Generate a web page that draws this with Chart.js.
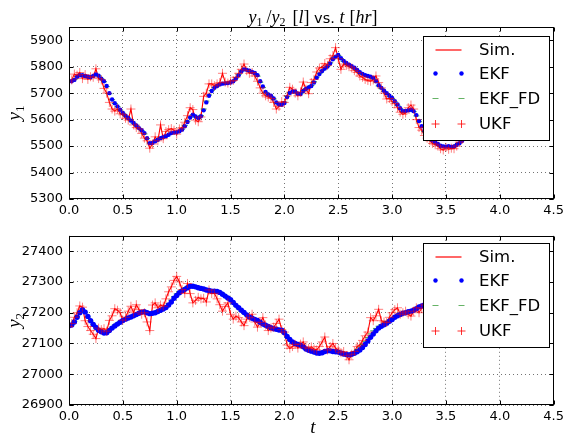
<!DOCTYPE html>
<html><head><meta charset="utf-8">
<script src="https://cdn.jsdelivr.net/npm/chart.js@4/dist/chart.umd.min.js"></script>
<style>
html,body{margin:0;padding:0;background:#fff;}
#wrap{position:relative;width:568px;height:444px;overflow:hidden;background:#fff;}
canvas{position:absolute;left:0;}
</style></head><body>
<div id="wrap">
<canvas id="c1" width="568" height="222" style="top:0"></canvas>
<canvas id="c2" width="568" height="222" style="top:222px"></canvas>
</div>
<script>
// ---------- data ----------
const t = [0,0.025,0.05,0.075,0.1,0.125,0.15,0.175,0.2,0.225,
0.25,0.275,0.3,0.325,0.35,0.375,0.4,0.425,0.45,0.475,
0.5,0.525,0.55,0.575,0.6,0.625,0.65,0.675,0.7,0.725,
0.75,0.775,0.8,0.825,0.85,0.875,0.9,0.925,0.95,0.975,
1,1.025,1.05,1.075,1.1,1.125,1.15,1.175,1.2,1.225,
1.25,1.275,1.3,1.325,1.35,1.375,1.4,1.425,1.45,1.475,
1.5,1.525,1.55,1.575,1.6,1.625,1.65,1.675,1.7,1.725,
1.75,1.775,1.8,1.825,1.85,1.875,1.9,1.925,1.95,1.975,
2,2.025,2.05,2.075,2.1,2.125,2.15,2.175,2.2,2.225,
2.25,2.275,2.3,2.325,2.35,2.375,2.4,2.425,2.45,2.475,
2.5,2.525,2.55,2.575,2.6,2.625,2.65,2.675,2.7,2.725,
2.75,2.775,2.8,2.825,2.85,2.875,2.9,2.925,2.95,2.975,
3,3.025,3.05,3.075,3.1,3.125,3.15,3.175,3.2,3.225,
3.25,3.275,3.3,3.325,3.35,3.375,3.4,3.425,3.45,3.475,
3.5,3.525,3.55,3.575,3.6,3.625,3.65];

const simY1 = [5742,5750,5772,5768,5778,5755,5770,5752,5762,5760,
5792,5755,5750,5718,5700,5665,5640,5632,5640,5622,
5618,5605,5598,5640,5580,5570,5565,5548,5530,5520,
5492,5508,5535,5520,5580,5528,5555,5562,5566,5560,
5545,5565,5570,5590,5615,5645,5638,5598,5592,5610,
5688,5700,5735,5735,5728,5735,5740,5775,5742,5738,
5745,5748,5760,5775,5790,5810,5785,5775,5778,5765,
5745,5720,5700,5690,5685,5680,5665,5640,5650,5668,
5665,5690,5722,5715,5700,5690,5705,5742,5715,5698,
5740,5752,5780,5795,5798,5812,5805,5830,5842,5872,
5830,5790,5810,5805,5800,5795,5785,5778,5765,5760,
5752,5748,5745,5750,5765,5740,5720,5700,5678,5680,
5668,5660,5645,5628,5620,5625,5645,5655,5640,5600,
5570,5560,5540,5530,5520,5510,5505,5500,5490,5485,
5495,5488,5492,5490,5500,5515,5525];

const ekfY1 = [5745,5745,5750,5762,5767,5768,5765,5762,5760,5765,
5771,5766,5755,5745,5727,5700,5676,5662,5650,5637,
5625,5615,5606,5596,5587,5578,5568,5560,5549,5530,
5511,5512,5518,5524,5530,5534,5537,5543,5549,5551,
5552,5556,5562,5575,5591,5608,5619,5612,5606,5613,
5635,5665,5690,5708,5720,5727,5733,5736,5737,5738,
5740,5745,5755,5768,5782,5790,5788,5785,5780,5776,
5768,5745,5725,5705,5695,5690,5680,5665,5657,5656,
5663,5685,5701,5706,5706,5698,5697,5708,5716,5722,
5727,5740,5758,5772,5784,5793,5801,5812,5828,5838,
5844,5832,5822,5814,5808,5802,5796,5788,5779,5773,
5768,5765,5762,5757,5745,5730,5720,5709,5700,5690,
5682,5670,5657,5643,5632,5633,5635,5637,5632,5617,
5595,5575,5558,5545,5533,5522,5514,5508,5501,5499,
5498,5500,5497,5499,5505,5511,5520];

const fdY1 = [5745,5746,5752,5763,5767,5768,5765,5762,5761,5766,
5770,5765,5754,5743,5725,5698,5675,5661,5649,5636,
5624,5614,5605,5595,5586,5577,5567,5558,5546,5528,
5512,5514,5520,5526,5531,5535,5538,5544,5549,5551,
5553,5557,5564,5578,5594,5610,5618,5610,5605,5615,
5640,5670,5693,5710,5721,5728,5733,5736,5737,5738,
5741,5747,5758,5771,5784,5790,5787,5784,5779,5774,
5764,5741,5721,5703,5694,5688,5678,5663,5656,5657,
5666,5688,5702,5706,5705,5698,5698,5709,5717,5723,
5729,5743,5761,5775,5786,5795,5803,5815,5830,5839,
5842,5830,5820,5812,5806,5800,5794,5786,5777,5771,
5767,5764,5760,5754,5742,5727,5717,5707,5698,5688,
5680,5667,5654,5641,5631,5633,5636,5637,5630,5614,
5592,5572,5555,5542,5530,5520,5512,5506,5500,5498,
5497,5499,5497,5500,5506,5513,5522];

const ukfY1 = [5742,5750,5772,5768,5778,5755,5770,5752,5762,5760,
5792,5755,5750,5718,5700,5665,5640,5632,5640,5622,
5618,5605,5598,5640,5580,5570,5565,5548,5530,5520,
5492,5508,5535,5520,5580,5528,5555,5562,5566,5560,
5545,5565,5570,5590,5615,5645,5638,5598,5592,5610,
5688,5700,5735,5735,5728,5735,5740,5775,5742,5738,
5745,5748,5760,5775,5790,5810,5785,5775,5778,5765,
5745,5720,5700,5690,5685,5680,5665,5640,5650,5668,
5665,5690,5722,5715,5700,5690,5705,5742,5715,5698,
5740,5752,5780,5795,5798,5812,5805,5830,5842,5872,
5830,5790,5810,5805,5800,5795,5785,5778,5765,5760,
5752,5748,5745,5750,5765,5740,5720,5700,5678,5680,
5668,5660,5645,5628,5620,5625,5645,5655,5640,5600,
5570,5560,5540,5530,5520,5510,5505,5500,5490,5485,
5495,5488,5492,5490,5500,5515,5525];

const simY2 = [27155,27165,27185,27200,27222,27218,27174,27155,27142,27130,
27116,27150,27145,27148,27140,27175,27190,27213,27208,27200,
27176,27185,27205,27221,27200,27226,27210,27195,27200,27170,
27142,27225,27232,27216,27225,27221,27245,27268,27284,27305,
27318,27300,27275,27263,27295,27262,27232,27240,27250,27245,
27247,27235,27274,27262,27263,27245,27226,27205,27220,27232,
27195,27179,27189,27184,27170,27158,27179,27185,27195,27170,
27153,27168,27184,27160,27142,27150,27153,27165,27179,27145,
27137,27095,27084,27090,27097,27085,27098,27105,27088,27084,
27089,27082,27079,27090,27105,27121,27079,27090,27100,27085,
27079,27070,27074,27060,27047,27065,27074,27090,27095,27110,
27125,27137,27184,27174,27190,27211,27174,27170,27168,27185,
27200,27210,27216,27195,27200,27205,27195,27189,27205,27216,
27200,27215,27225,27230,27220,27235,27240,27230,27245,27235,
27240,27250,27235,27245,27238,27250,27242];

const ekfY2 = [27158,27160,27170,27185,27200,27210,27202,27188,27174,27162,
27152,27143,27138,27134,27135,27142,27150,27157,27163,27169,
27175,27179,27183,27186,27190,27194,27198,27202,27203,27200,
27197,27198,27200,27204,27208,27212,27217,27225,27235,27247,
27256,27265,27271,27276,27281,27286,27286,27284,27281,27279,
27277,27274,27272,27270,27270,27269,27266,27260,27254,27248,
27242,27233,27224,27216,27208,27201,27193,27186,27182,27178,
27175,27169,27163,27159,27155,27151,27148,27146,27144,27143,
27135,27123,27113,27105,27100,27097,27094,27089,27082,27078,
27075,27072,27069,27068,27070,27074,27076,27076,27074,27073,
27072,27069,27066,27064,27063,27065,27068,27073,27079,27087,
27097,27108,27120,27131,27141,27150,27156,27161,27166,27172,
27178,27185,27190,27194,27198,27200,27203,27205,27208,27213,
27219,27222,27225,27228,27230,27232,27233,27234,27235,27236,
27236,27237,27238,27238,27239,27240,27240];

const fdY2 = [27158,27161,27172,27187,27201,27209,27200,27186,27173,27161,
27151,27143,27139,27136,27138,27145,27153,27160,27166,27172,
27177,27181,27185,27188,27192,27196,27200,27203,27203,27200,
27198,27200,27203,27207,27211,27215,27221,27230,27241,27252,
27261,27269,27275,27280,27285,27289,27289,27287,27284,27282,
27280,27277,27275,27273,27273,27271,27267,27261,27254,27247,
27240,27231,27222,27213,27205,27198,27191,27185,27181,27177,
27173,27167,27162,27158,27154,27150,27148,27146,27145,27142,
27132,27120,27110,27103,27099,27096,27093,27088,27081,27077,
27074,27071,27069,27069,27072,27076,27078,27077,27075,27074,
27073,27071,27068,27066,27066,27069,27073,27080,27088,27097,
27107,27119,27131,27141,27149,27156,27161,27166,27171,27176,
27181,27187,27192,27196,27199,27202,27204,27207,27211,27216,
27221,27224,27227,27229,27231,27233,27234,27235,27236,27237,
27237,27238,27239,27239,27240,27241,27241];

const ukfY2 = [27155,27165,27185,27200,27222,27218,27174,27155,27142,27130,
27116,27150,27145,27148,27140,27175,27190,27213,27208,27200,
27176,27185,27205,27221,27200,27226,27210,27195,27200,27170,
27142,27225,27232,27216,27225,27221,27245,27268,27284,27305,
27318,27300,27275,27263,27295,27262,27232,27240,27250,27245,
27247,27235,27274,27262,27263,27245,27226,27205,27220,27232,
27195,27179,27189,27184,27170,27158,27179,27185,27195,27170,
27153,27168,27184,27160,27142,27150,27153,27165,27179,27145,
27137,27095,27084,27090,27097,27085,27098,27105,27088,27084,
27089,27082,27079,27090,27105,27121,27079,27090,27100,27085,
27079,27070,27074,27060,27047,27065,27074,27090,27095,27110,
27125,27137,27184,27174,27190,27211,27174,27170,27168,27185,
27200,27210,27216,27195,27200,27205,27195,27189,27205,27216,
27200,27215,27225,27230,27220,27235,27240,27230,27245,27235,
27240,27250,27235,27245,27238,27250,27242];

const xTicks = [0,0.5,1,1.5,2,2.5,3,3.5,4,4.5];
const yTicks1 = [5300,5400,5500,5600,5700,5800,5900];
const yTicks2 = [26900,27000,27100,27200,27300,27400];
const legendLabels = ['Sim.','EKF','EKF_FD','UKF'];

// ---------- styling ----------
const TICK_FONT = {family:'"DejaVu Sans", sans-serif', size:13};
const SERIF = '"Liberation Serif", "DejaVu Serif", serif';
const C_SIM = '#ff0000', C_EKF = '#0000ff', C_FD = 'rgba(0,128,0,0.75)', C_UKF = 'rgba(255,0,0,0.5)';

function pts(ys){ return t.map((x,i)=>({x:x, y:ys[i]})); }

function datasets(sim, ekf, fd, ukf, dotR){
  return [
    {label:legendLabels[0], data:pts(sim), borderColor:C_SIM, borderWidth:1.1, pointRadius:0, fill:false, tension:0, order:3},
    {label:legendLabels[1], data:pts(ekf), showLine:false, pointStyle:'circle', pointRadius:dotR, backgroundColor:C_EKF, borderColor:C_EKF, borderWidth:0, order:1},
    {label:legendLabels[2], data:pts(fd), showLine:false, pointStyle:'line', pointRadius:3, borderColor:C_FD, borderWidth:1, order:2},
    {label:legendLabels[3], data:pts(ukf), showLine:false, pointStyle:'cross', pointRadius:4.5, borderColor:C_UKF, backgroundColor:C_UKF, borderWidth:1, order:0}
  ];
}

function drawMath(ctx, parts, x0, baseline, align){
  let w = 0;
  parts.forEach(p=>{ ctx.font = p.f; p.w = ctx.measureText(p.s).width; w += p.w + (p.gap||0); });
  let x = align==='center' ? x0 - w/2 : x0;
  ctx.fillStyle = '#000';
  ctx.textBaseline = 'alphabetic';
  ctx.textAlign = 'left';
  parts.forEach(p=>{ ctx.font = p.f; ctx.fillText(p.s, x, baseline + (p.dy||0)); x += p.w + (p.gap||0); });
}

function drawLegend(ctx, box, rows){
  ctx.save();
  ctx.setLineDash([]);
  ctx.fillStyle = '#fff';
  ctx.fillRect(box.x, box.y, box.w, box.h);
  ctx.strokeStyle = '#000'; ctx.lineWidth = 1;
  ctx.strokeRect(box.x+0.5, box.y+0.5, box.w, box.h);
  const xa = 435.5, xb = 461.5, xt = 479;
  // Sim line
  ctx.strokeStyle = '#ff0000'; ctx.lineWidth = 1.2;
  ctx.beginPath(); ctx.moveTo(xa, Math.round(rows[0])); ctx.lineTo(xb, Math.round(rows[0])); ctx.stroke();
  ctx.lineWidth = 1;
  // EKF dots
  ctx.fillStyle = C_EKF;
  [xa,xb].forEach(x=>{ ctx.beginPath(); ctx.arc(x, rows[1], 2.2, 0, Math.PI*2); ctx.fill(); });
  // FD dashes
  ctx.strokeStyle = 'rgba(0,128,0,0.6)';
  ctx.beginPath();
  [xa,xb].forEach(x=>{ ctx.moveTo(x-3, rows[2]); ctx.lineTo(x+3, rows[2]); });
  ctx.stroke();
  // UKF crosses
  ctx.strokeStyle = 'rgba(255,0,0,0.8)';
  ctx.beginPath();
  [xa,xb].forEach(x=>{ ctx.moveTo(x-4, rows[3]); ctx.lineTo(x+4, rows[3]); ctx.moveTo(x, rows[3]-4); ctx.lineTo(x, rows[3]+4); });
  ctx.stroke();
  ctx.fillStyle = '#000';
  ctx.font = '16.5px "DejaVu Sans", sans-serif';
  ctx.textBaseline = 'middle'; ctx.textAlign = 'left';
  legendLabels.forEach((s,i)=>ctx.fillText(s, xt, rows[i]+1));
  ctx.restore();
}

function frameAndTicks(chart){
  const {ctx, chartArea:a, scales} = chart;
  ctx.save();
  ctx.setLineDash([]);
  ctx.strokeStyle = '#000'; ctx.lineWidth = 1;
  const L = Math.round(a.left)+0.5, R = Math.round(a.right)-0.5, T = Math.round(a.top)+0.5, B = Math.round(a.bottom)-0.5;
  ctx.beginPath();
  scales.x.ticks.forEach(tk=>{ const px = Math.round(scales.x.getPixelForValue(tk.value))+0.5;
    ctx.moveTo(px,B); ctx.lineTo(px,B-4); ctx.moveTo(px,T); ctx.lineTo(px,T+4); });
  scales.y.ticks.forEach(tk=>{ const py = Math.round(scales.y.getPixelForValue(tk.value))+0.5;
    ctx.moveTo(L,py); ctx.lineTo(L+4,py); ctx.moveTo(R,py); ctx.lineTo(R-4,py); });
  ctx.stroke();
  ctx.strokeRect(L, T, R-L, B-T);
  ctx.restore();
}

function makeChart(id, sim, ekf, fd, ukf, yMin, yMax, yTicks, opts){
  const plug = {
    id:'deco'+id,
    afterDraw(chart){
      const ctx = chart.ctx;
      frameAndTicks(chart);
      drawLegend(ctx, opts.legendBox, opts.legendRows);
      ctx.save();
      ctx.translate(opts.yLabelX, chart.chartArea.top + (chart.chartArea.bottom-chart.chartArea.top)/2);
      ctx.rotate(-Math.PI/2);
      drawMath(ctx, [
        {s:'y', f:'italic 19px '+SERIF},
        {s:opts.ySub, f:'13px '+SERIF, dy:4}
      ], 0, 0, 'center');
      ctx.restore();
      if (opts.extra) opts.extra(ctx, chart);
    }
  };
  return new Chart(document.getElementById(id), {
    type:'line',
    data:{datasets:datasets(sim, ekf, fd, ukf, opts.dotR)},
    options:{
      responsive:false, animation:false, events:[],
      layout:{padding:{top:opts.padTop, right:11, left:0, bottom:0}},
      plugins:{legend:{display:false}, tooltip:{enabled:false}, title:{display:false}},
      scales:{
        x:{type:'linear', min:0, max:4.5,
           afterBuildTicks:s=>{ s.ticks = xTicks.map(v=>({value:v})); },
           afterFit:s=>{ s.height = opts.xHeight; },
           ticks:{font:TICK_FONT, color:'#000', padding:4, maxRotation:0, callback:v=>Number(v).toFixed(1)},
           grid:{color:'rgba(0,0,0,0.55)', lineWidth:1, drawTicks:false},
           border:{display:false, dash:[1,3]}},
        y:{type:'linear', min:yMin, max:yMax,
           afterBuildTicks:s=>{ s.ticks = yTicks.map(v=>({value:v})); },
           afterFit:s=>{ s.width = 69; },
           ticks:{font:TICK_FONT, color:'#000', padding:6, callback:v=>String(v)},
           grid:{color:'rgba(0,0,0,0.55)', lineWidth:1, drawTicks:false},
           border:{display:false, dash:[1,3]}}
      }
    },
    plugins:[plug]
  });
}

makeChart('c1', simY1, ekfY1, fdY1, ukfY1, 5300, 5950, yTicks1, {
  padTop:27, xHeight:23, yLabelX:20, ySub:'1', dotR:2.2,
  legendBox:{x:423, y:36, w:126, h:104},
  legendRows:[49.5, 73.5, 98.5, 124],
  extra:(ctx)=>{
    const m = 'italic 18px '+SERIF, r = '18px '+SERIF, s = '12px '+SERIF;
    drawMath(ctx, [
      {s:'y', f:m}, {s:'1', f:s, dy:3, gap:4},
      {s:'/', f:r}, {s:'y', f:m}, {s:'2', f:s, dy:3, gap:7},
      {s:'[', f:r}, {s:'l', f:m}, {s:']', f:r},
      {s:' vs. ', f:'14.5px "DejaVu Sans", sans-serif'},
      {s:'t', f:m, gap:5}, {s:'[', f:r}, {s:'hr', f:m}, {s:']', f:r}
    ], 313, 23, 'center');
  }
});

makeChart('c2', simY2, ekfY2, fdY2, ukfY2, 26900, 27450, yTicks2, {
  padTop:12, xHeight:39, yLabelX:20, ySub:'2', dotR:2.7,
  legendBox:{x:423, y:21, w:126, h:104},
  legendRows:[34.5, 58.5, 83.5, 109],
  extra:(ctx)=>{
    drawMath(ctx, [{s:'t', f:'italic 19px '+SERIF}], 313, 211, 'center');
  }
});
</script>
</body></html>
